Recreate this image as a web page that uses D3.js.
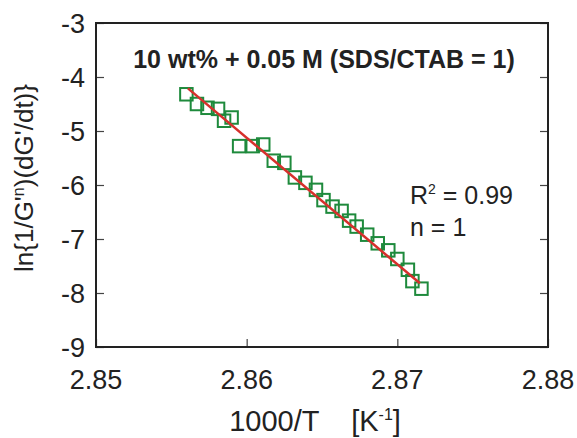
<!DOCTYPE html>
<html>
<head>
<meta charset="utf-8">
<script src="https://cdn.jsdelivr.net/npm/d3@7"></script>
<style>
  body { margin: 0; background: #fff; }
  text { font-family: Arial, "Liberation Sans", sans-serif; fill: #222; }
</style>
</head>
<body>
<div id="chart"></div>
<script>
var width = 577;
var height = 438;

// measured points
var xVals = [2.8560, 2.8567, 2.8574, 2.8581, 2.8585, 2.8590, 2.8595, 2.8604, 2.8611,
             2.8618, 2.8625, 2.8632, 2.8639, 2.8646, 2.8651, 2.8657, 2.8663, 2.8668,
             2.8673, 2.8680, 2.8687, 2.8694, 2.8700, 2.8707, 2.8710, 2.8716];
var yVals = [-4.32, -4.50, -4.57, -4.59, -4.81, -4.75, -5.28, -5.28, -5.25,
             -5.55, -5.59, -5.86, -5.96, -6.09, -6.28, -6.40, -6.48, -6.66,
             -6.77, -6.92, -7.08, -7.21, -7.37, -7.57, -7.78, -7.92];

// linear fit
var fitX = [2.8561, 2.8715];
var fitY = [-4.21, -7.82];

var xTicks = [2.85, 2.86, 2.87, 2.88];
var yTicks = [-3, -4, -5, -6, -7, -8, -9];

var margin = {left: 96, right: 29, top: 23, bottom: 91};

var svg = d3.select("#chart")
            .append("svg")
            .attr("width", width)
            .attr("height", height);

var x = d3.scaleLinear()
          .domain([2.85, 2.88])
          .range([margin.left, width - margin.right]);

var y = d3.scaleLinear()
          .domain([-9, -3])
          .range([height - margin.bottom, margin.top]);

// inner ticks, left and right
svg.append("g")
   .attr("transform", "translate(" + margin.left + ",0)")
   .call(d3.axisLeft(y).tickValues(yTicks).tickSize(-8).tickFormat(""))
   .call(g => g.select(".domain").remove());
svg.append("g")
   .attr("transform", "translate(" + (width - margin.right) + ",0)")
   .call(d3.axisRight(y).tickValues(yTicks).tickSize(-8).tickFormat(""))
   .call(g => g.select(".domain").remove());
svg.append("g")
   .attr("transform", "translate(0," + (height - margin.bottom) + ")")
   .call(d3.axisBottom(x).tickValues(xTicks).tickSize(-8).tickFormat(""))
   .call(g => g.select(".domain").remove());
svg.selectAll(".tick line").attr("stroke", "#444").attr("stroke-width", 1.2);

// tick labels
svg.selectAll(".ylab")
   .data(yTicks)
   .enter().append("text")
   .attr("x", margin.left - 11)
   .attr("y", d => y(d))
   .attr("dy", "0.36em")
   .attr("text-anchor", "end")
   .style("font-size", "27px")
   .text(d => d);

svg.selectAll(".xlab")
   .data(xTicks)
   .enter().append("text")
   .attr("x", d => x(d))
   .attr("y", height - margin.bottom + 42)
   .attr("text-anchor", "middle")
   .style("font-size", "27px")
   .text(d => d3.format(".2f")(d));

// frame
svg.append("rect")
   .attr("x", margin.left)
   .attr("y", margin.top)
   .attr("width", width - margin.left - margin.right)
   .attr("height", height - margin.top - margin.bottom)
   .attr("fill", "none")
   .attr("stroke", "#222")
   .attr("stroke-width", 2);

// squares
var pts = xVals.map((d, i) => ({x: d, y: yVals[i]}));
var s = 12.5;
svg.selectAll(".pt")
   .data(pts)
   .enter().append("rect")
   .attr("x", d => x(d.x) - s / 2)
   .attr("y", d => y(d.y) - s / 2)
   .attr("width", s)
   .attr("height", s)
   .attr("fill", "none")
   .attr("stroke", "#1e8a3c")
   .attr("stroke-width", 2);

// fit line
var lineGenerator = d3.line()
                      .x(d => x(d.x))
                      .y(d => y(d.y));
svg.append("path")
   .attr("d", lineGenerator(fitX.map((d, i) => ({x: d, y: fitY[i]}))))
   .attr("stroke", "#d6302c")
   .attr("stroke-width", 2.5)
   .attr("fill", "none");

// title
svg.append("text")
   .attr("x", 324)
   .attr("y", 68)
   .attr("text-anchor", "middle")
   .style("font-size", "25px")
   .style("font-weight", "bold")
   .text("10 wt% + 0.05 M (SDS/CTAB = 1)");

// fit stats
var r2 = svg.append("text")
   .attr("x", 410)
   .attr("y", 204)
   .style("font-size", "25px");
r2.append("tspan").text("R");
r2.append("tspan").attr("dy", -10).style("font-size", "14px").text("2");
r2.append("tspan").attr("dy", 10).text(" = 0.99");

svg.append("text")
   .attr("x", 410)
   .attr("y", 236)
   .style("font-size", "25px")
   .text("n = 1");

// axis titles
var yt = svg.append("text")
   .attr("transform", "translate(33,178) rotate(-90)")
   .attr("text-anchor", "middle")
   .style("font-size", "26px");
yt.append("tspan").text("ln{1/G'");
yt.append("tspan").attr("dy", -9).style("font-size", "16px").text("n");
yt.append("tspan").attr("dy", 9).text(")(dG'/dt)}");

var xt = svg.append("text")
   .attr("x", 315)
   .attr("y", 431)
   .attr("text-anchor", "middle")
   .style("font-size", "29px")
   .style("white-space", "pre");
xt.append("tspan").text("1000/T    [K");
xt.append("tspan").attr("dy", -11).style("font-size", "16px").text("-1");
xt.append("tspan").attr("dy", 11).text("]");
</script>
</body>
</html>
